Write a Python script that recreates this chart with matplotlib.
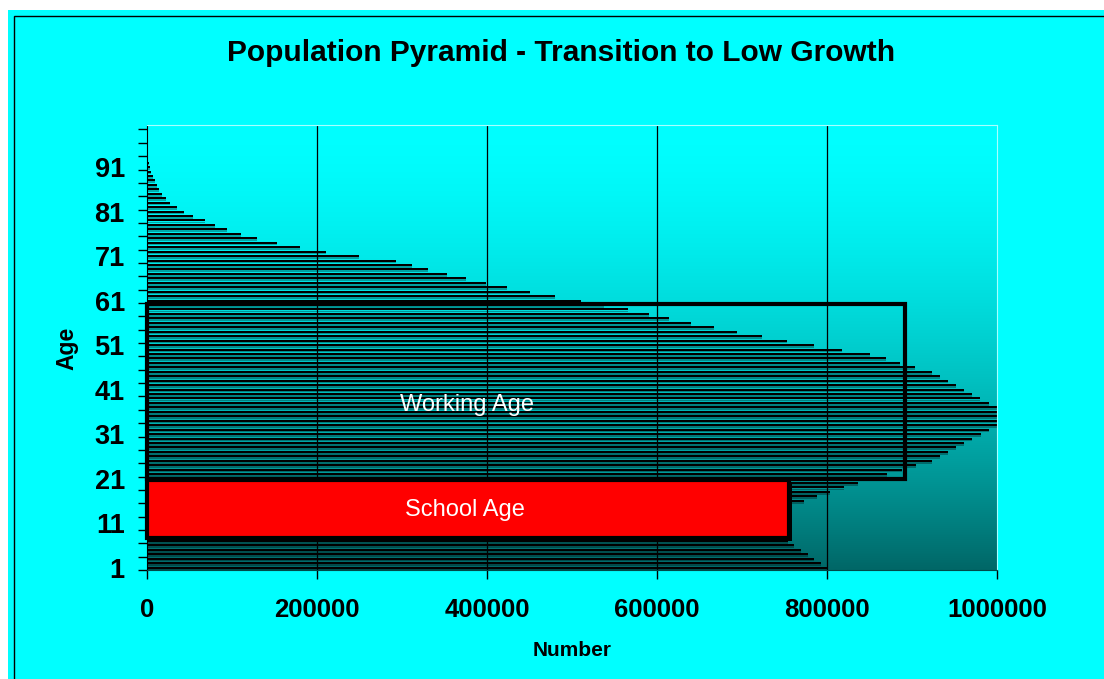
import numpy as np
import matplotlib.pyplot as plt
from matplotlib.patches import Rectangle
import matplotlib.patheffects as pe

# ── data ──
ages = list(range(1, 101))
population = [
    800000, 793000, 785000, 778000, 769000, 761000, 754000, 748000, 743000, 739000,   # 1-10
    736000, 735000, 737000, 742000, 752000, 773000, 788000, 804000, 820000, 836000,   # 11-20
    853000, 870000, 888000, 905000, 924000, 933000, 942000, 952000, 961000, 971000,   # 21-30
    981000, 991000, 1000000, 1000000, 1000000, 1000000, 1000000, 990000, 980000, 971000,  # 31-40
    961000, 952000, 942000, 933000, 924000, 904000, 886000, 869000, 851000, 818000,   # 41-50
    785000, 753000, 723000, 694000, 667000, 640000, 614000, 590000, 566000, 538000,   # 51-60
    511000, 480000, 451000, 424000, 399000, 375000, 353000, 331000, 312000, 293000,   # 61-70
    249000, 211000, 180000, 153000, 129000, 110000, 94000, 80000, 68000, 54000,       # 71-80
    44000, 35000, 27000, 22000, 18000, 14000, 12000, 9000, 7000, 5000,                # 81-90
    3500, 2000, 1500, 800, 700, 400, 300, 0, 0, 0,                                    # 91-100
]
x_ticks = [0, 200000, 400000, 600000, 800000, 1000000]
y_label_ages = [1, 11, 21, 31, 41, 51, 61, 71, 81, 91]

# highlighted groups: (bottom, top, box width) in axis units
school_box = (7.8, 20.8, 755000)
working_box = (21.0, 60.2, 892000)

plt.rcParams['font.family'] = ['Liberation Sans', 'DejaVu Sans']

W, H = 1104, 679
fig = plt.figure(figsize=(W / 100, H / 100), dpi=100)
fig.patch.set_facecolor('white')

# cyan chart area + thin border
fig.patches.append(Rectangle((8 / W, -0.1), 1.0, 1.1 - 10 / H, transform=fig.transFigure,
                             facecolor='#00FFFF', edgecolor='none', zorder=-10))
fig.patches.append(Rectangle((14 / W, -0.1), 1.0, 1.1 - 16 / H, transform=fig.transFigure,
                             facecolor='none', edgecolor='black', lw=1, zorder=-9))

ax = fig.add_axes([147 / W, 1 - 570 / H, 850 / W, 445 / H])

# gradient plot area (cyan -> dark teal)
t = np.linspace(0, 1, 256)[:, None]
c = (255 - 152 * t ** 1.6) / 255
grad = np.dstack([np.zeros_like(c), c, c])
ax.imshow(grad, extent=[0, 1, 0, 1], transform=ax.transAxes, aspect='auto', zorder=0)

for xv in x_ticks[1:-1]:
    ax.axvline(xv, color='black', lw=0.9, zorder=1)

ages_arr = np.array(ages)
# soft shadow under each bar, then the bar itself
ax.barh(ages_arr - 0.38, population, height=0.38, color='black', alpha=0.3, zorder=2, linewidth=0)
ax.barh(ages_arr + 0.05, population, height=0.45, color='black', zorder=2.5, linewidth=0)

lo, hi, w = working_box
ax.add_patch(Rectangle((0, lo), w, hi - lo, facecolor='none', edgecolor='black', lw=3,
                       zorder=3, clip_on=False))
lo, hi, w = school_box
ax.add_patch(Rectangle((0, lo), w, hi - lo, facecolor='#FF0000', edgecolor='black', lw=3,
                       zorder=3, clip_on=False,
                       path_effects=[pe.SimplePatchShadow(offset=(2.5, -2.5), shadow_rgbFace='black', alpha=1),
                                     pe.Normal()]))

ax.text(377000, 37.6, 'Working Age', color='white', fontsize=17, ha='center', va='center', zorder=4)
ax.text(374000, 13.9, 'School Age', color='white', fontsize=17, ha='center', va='center', zorder=4)

ax.set_xlim(0, 1000000)
ax.set_ylim(0.5, 100.5)

ax.set_xticks(x_ticks)
ax.set_xticklabels([str(v) for v in x_ticks], fontsize=18.5, fontweight='bold')
ax.set_yticks(y_label_ages)
ax.set_yticklabels([str(v) for v in y_label_ages], fontsize=19.5, fontweight='bold')
ax.set_yticks(np.arange(0.5, 101, 3), minor=True)
ax.tick_params(axis='x', which='major', length=6.5, width=1, direction='out', pad=14)
ax.tick_params(axis='y', which='major', length=0, pad=16)
ax.tick_params(axis='y', which='minor', length=6.5, width=1, direction='out')

ax.spines['left'].set_color('black')
ax.spines['bottom'].set_color('#004848')
ax.spines['top'].set_color('#A8FFFF')
ax.spines['right'].set_color('#A8FFFF')

fig.text(561 / W, 1 - 53 / H, 'Population Pyramid - Transition to Low Growth',
         fontsize=21.5, fontweight='bold', ha='center', va='center')
fig.text(67 / W, 1 - 348 / H, 'Age', fontsize=16.5, fontweight='bold', rotation=90,
         ha='center', va='center')
fig.text(572 / W, 1 - 650 / H, 'Number', fontsize=15, fontweight='bold', ha='center', va='center')

fig.savefig('out.png', dpi=100)
